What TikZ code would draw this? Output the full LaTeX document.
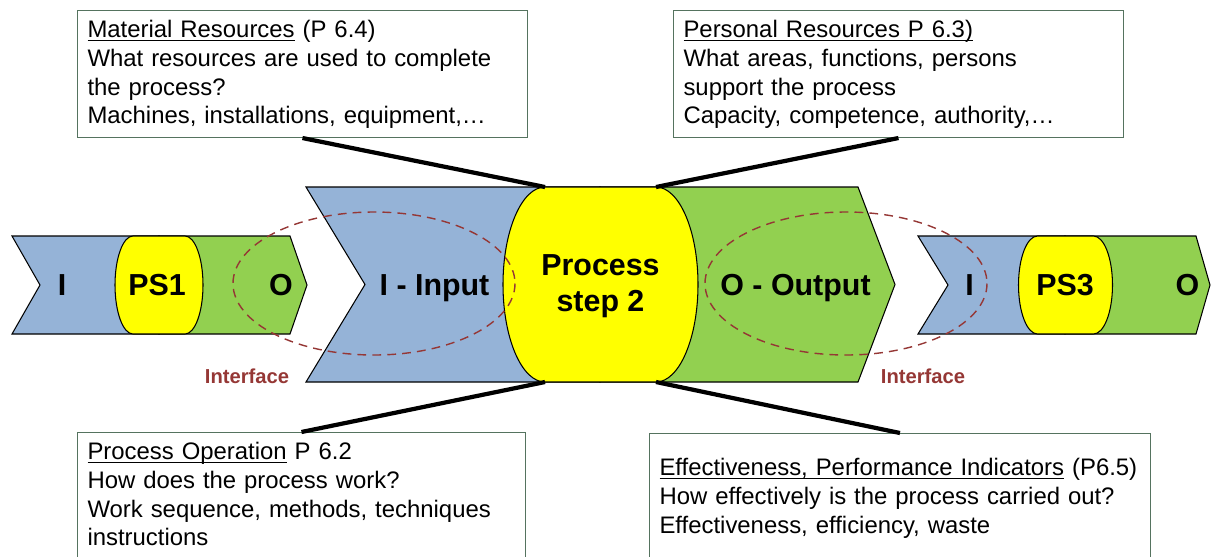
\documentclass[tikz,border=0pt]{standalone}
\usepackage{fontspec}
\setmainfont{Liberation Sans}
\usepackage{tikz}
\usetikzlibrary{positioning}

\definecolor{inblue}{RGB}{149,179,215}
\definecolor{outgreen}{RGB}{146,208,80}
\definecolor{psyellow}{RGB}{255,255,0}
\definecolor{ifred}{RGB}{149,55,53}
\definecolor{boxline}{RGB}{85,115,95}

% underline just below the baseline, through the descenders
\newcommand{\ulabel}[1]{\underline{\smash{#1}}}

% yellow process step: centre x, centre y, half flat width, bulge, half height
\newcommand{\pill}[5]{%
  \draw[pillbox] ({#1-#3},{#2-#5}) -- ({#1+#3},{#2-#5})
    .. controls +({0.5523*#4},0) and +(0,{-0.5523*#5}) .. ({#1+#3+#4},#2)
    .. controls +(0,{0.5523*#5}) and +({0.5523*#4},0) .. ({#1+#3},{#2+#5})
    -- ({#1-#3},{#2+#5})
    .. controls +({-0.5523*#4},0) and +(0,{0.5523*#5}) .. ({#1-#3-#4},#2)
    .. controls +(0,{-0.5523*#5}) and +({-0.5523*#4},0) .. ({#1-#3},{#2-#5})
    -- cycle;}

\begin{document}
\begin{tikzpicture}[
            x=0.02cm, y=-0.02cm,
            chevin/.style={fill=inblue, draw=black, line width=0.6pt},
            chevout/.style={fill=outgreen, draw=black, line width=0.6pt},
            pillbox/.style={fill=psyellow, draw=black, line width=0.6pt},
            infobox/.style={draw=boxline, fill=white, line width=0.6pt,
                anchor=north west, align=left,
                font=\fontsize{13.6}{16.4}\selectfont,
                inner xsep=0.2cm, inner ysep=0.18cm, text height=0.36cm},
            link/.style={draw=black, line width=2.4pt},
            interface/.style={draw=ifred, line width=0.8pt, dash pattern=on 5pt off 3.5pt},
            biglabel/.style={font=\fontsize{17.3}{20.4}\selectfont\bfseries, inner sep=0pt},
            iflabel/.style={font=\fontsize{11.5}{13}\selectfont\bfseries, text=ifred,
                anchor=base, inner sep=0pt}]
            \path[use as bounding box] (0,0) rectangle (1211,556);
            \clip (0,0) rectangle (1211,556);

            % question boxes
            \node [infobox, text width=8.6cm, text depth=1.82cm] (matres) at (77,10)
                {\ulabel{Material Resources} (P 6.4)\\What resources are used to complete\\the process?\\Machines, installations, equipment,…};
            \node [infobox, text width=8.6cm, text depth=1.82cm] (perres) at (673,10)
                {\ulabel{Personal Resources P 6.3)}\\What areas, functions, persons\\support the process\\Capacity, competence, authority,…};
            \node [infobox, text width=8.56cm, text depth=3cm] (procop) at (77,432)
                {\ulabel{Process Operation} P 6.2\\How does the process work?\\Work sequence, methods, techniques\\instructions};
            \node [infobox, text width=9.62cm, text height=0.66cm, text depth=3cm] (perfind) at (649,433)
                {\ulabel{Effectiveness, Performance Indicators} (P6.5)\\How effectively is the process carried out?\\Effectiveness, efficiency, waste};

            % previous step
            \draw[chevin] (12,236) -- (159,236) -- (159,334) -- (12,334) -- (40,285) -- cycle;
            \draw[chevout] (159,236) -- (290,236) -- (307,285) -- (290,334) -- (159,334) -- cycle;
            \pill{159}{285}{26}{18}{49}

            % process step 2
            \draw[chevin] (306,187) -- (600,187) -- (600,382) -- (306,382) -- (365,284.5) -- cycle;
            \draw[chevout] (600,187) -- (858,187) -- (895,284.5) -- (858,382) -- (600,382) -- cycle;
            \pill{600.5}{284.5}{55.5}{42}{97.5}
            \coordinate (ps2nw) at (545,187);
            \coordinate (ps2ne) at (656,187);
            \coordinate (ps2sw) at (545,382);
            \coordinate (ps2se) at (656,382);

            % next step
            \draw[chevin] (918,236) -- (1065,236) -- (1065,334) -- (918,334) -- (948,285) -- cycle;
            \draw[chevout] (1065,236) -- (1196,236) -- (1210,285) -- (1196,334) -- (1065,334) -- cycle;
            \pill{1065.5}{285}{28}{19}{49}

            \draw[link] (matres.south) -- (ps2nw);
            \draw[link] (perres.south) -- (ps2ne);
            \draw[link] (procop.north) -- (ps2sw);
            \draw[link] (perfind.north) -- (ps2se);

            % interfaces
            \draw[interface] (374,283.5) ellipse [x radius=141, y radius=71.5];
            \draw[interface] (846,283.5) ellipse [x radius=141, y radius=71.5];
            \node [iflabel] (ifleft) at (247,383) {Interface};
            \node [iflabel] (ifright) at (923,383) {Interface};

            \node [biglabel, anchor=base] (i1) at (62,295) {I};
            \node [biglabel, anchor=base] (ps1) at (157,295) {PS1};
            \node [biglabel, anchor=base] (o1) at (281,295) {O};
            \node [biglabel, anchor=base] (i2) at (434.5,295) {I - Input};
            \node [biglabel, align=center] (ps2) at (600.5,286) {Process\\step 2};
            \node [biglabel, anchor=base] (o2) at (795.5,295) {O - Output};
            \node [biglabel, anchor=base] (i3) at (969.5,295) {I};
            \node [biglabel, anchor=base] (ps3) at (1065,295) {PS3};
            \node [biglabel, anchor=base] (o3) at (1187.5,295) {O};
        \end{tikzpicture}
\end{document}
